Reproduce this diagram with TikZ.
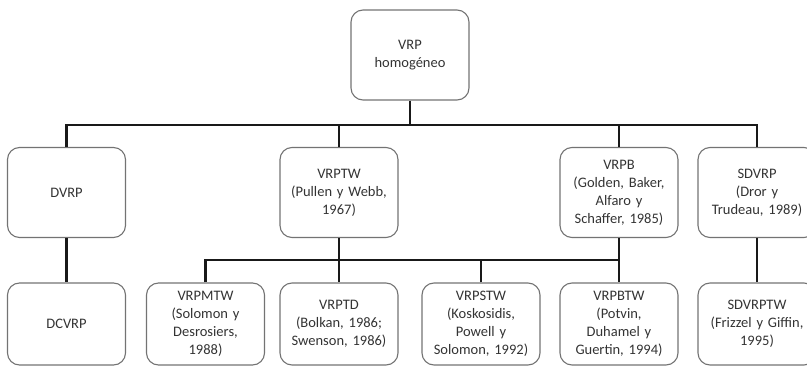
\documentclass[tikz,border=0pt]{standalone}
\usepackage{fontspec}
\setmainfont{Carlito}
\usetikzlibrary{calc}

\begin{document}
\begin{tikzpicture}[x=1pt, y=1pt,
    caja/.style={rectangle, rounded corners=12pt, draw=black!55, line width=1.1pt,
      minimum width=118pt, minimum height=90pt, inner sep=2pt, text width=114pt,
      align=center, text=black!80, font=\fontsize{14.5}{18}\selectfont},
    cajab/.style={caja, minimum height=82pt},
    rama/.style={line width=2.8pt, black!90}]
      \useasboundingbox (0, 0) rectangle (807, -369);

      % raiz
      \node[caja, minimum width=117pt] (root) at (410, -55) {VRP\\homogéneo};

      % primer nivel
      \node[caja] (dvrp) at (66.5, -192.5) {DVRP};
      \node[caja] (vrptw) at (339, -192.5) {VRPTW\\(Pullen y Webb,\\1967)};
      \node[caja] (vrpb) at (619, -192.5) {VRPB\\(Golden, Baker,\\Alfaro y\\Schaffer, 1985)};
      \node[caja] (sdvrp) at (757, -192.5) {SDVRP\\(Dror y\\Trudeau, 1989)};

      % segundo nivel
      \node[cajab] (dcvrp) at (66.5, -324) {DCVRP};
      \node[cajab] (vrpmtw) at (205.5, -324) {VRPMTW\\(Solomon y\\Desrosiers,\\1988)};
      \node[cajab] (vrptd) at (339, -324) {VRPTD\\(Bolkan, 1986;\\Swenson, 1986)};
      \node[cajab] (vrpstw) at (481, -324) {VRPSTW\\(Koskosidis,\\Powell y\\Solomon, 1992)};
      \node[cajab] (vrpbtw) at (619, -324) {VRPBTW\\(Potvin,\\Duhamel y\\Guertin, 1994)};
      \node[cajab] (sdvrptw) at (757, -324) {SDVRPTW\\(Frizzel y Giffin,\\1995)};

      \coordinate (b1) at (410, -125);
      \coordinate (b2) at (410, -260);

      \draw[rama] (root) -- (b1);
      \draw[rama] (dvrp.north) |- (b1) -| (sdvrp.north);
      \draw[rama] (vrptw.north) -- (vrptw.north |- b1);
      \draw[rama] (vrpb.north) -- (vrpb.north |- b1);

      \draw[rama] (dvrp) -- (dcvrp);
      \draw[rama] (sdvrp) -- (sdvrptw);
      \draw[rama] (vrptw) -- (vrptd);
      \draw[rama] (vrpb) -- (vrpbtw);
      \draw[rama] (vrpmtw.north) |- (b2) -| (vrpbtw.north);
      \draw[rama] (vrpstw.north) -- (vrpstw.north |- b2);
    \end{tikzpicture}
\end{document}
